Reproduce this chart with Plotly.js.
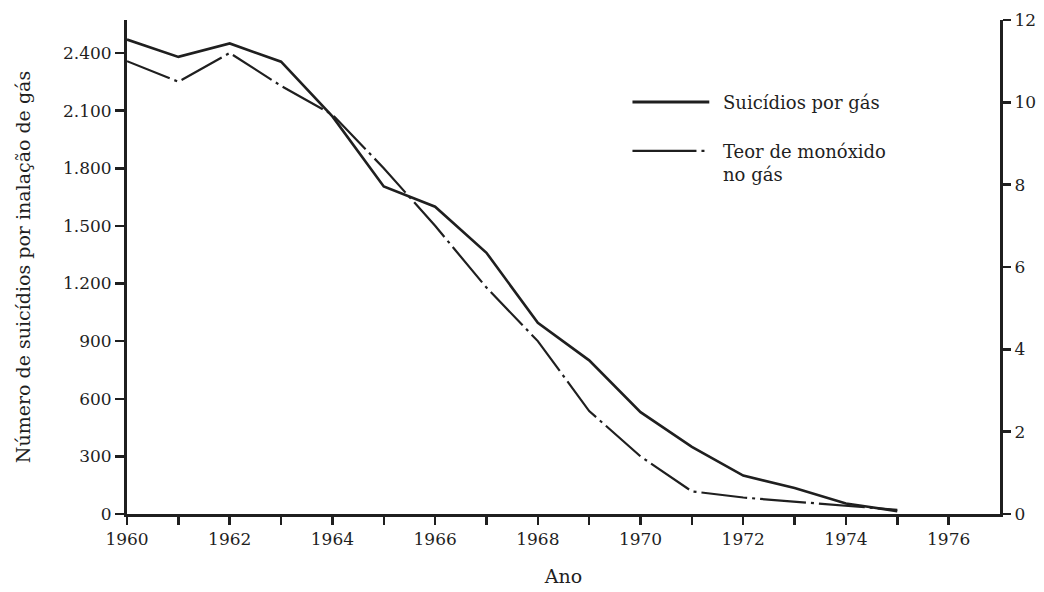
<!DOCTYPE html>
<html>
<head>
<meta charset="utf-8">
<script src="https://cdn.plot.ly/plotly-3.0.1.min.js"></script>
<style>html,body{margin:0;padding:0;background:#fff;}#chart{width:1044px;height:592px;}</style>
</head>
<body>
<div id="chart"></div>
<script>
// Data
const years = [1960,1961,1962,1963,1964,1965,1966,1967,1968,1969,1970,1971,1972,1973,1974,1975];
const suicidiosPorGas = [2470,2380,2450,2355,2070,1705,1600,1360,995,800,530,350,200,135,55,15];
const teorMonoxido = [11.0,10.5,11.2,10.4,9.7,8.4,7.0,5.5,4.2,2.5,1.4,0.55,0.4,0.3,0.2,0.1];

const xTickVals = [1960,1961,1962,1963,1964,1965,1966,1967,1968,1969,1970,1971,1972,1973,1974,1975,1976];
const xTickText = ['1960','','1962','','1964','','1966','','1968','','1970','','1972','','1974','','1976'];
const yLeftTickVals = [0,300,600,900,1200,1500,1800,2100,2400];
const yLeftTickText = ['0','300','600','900','1.200','1.500','1.800','2.100','2.400'];
const yRightTickVals = [0,2,4,6,8,10,12];
const yRightTickText = ['0','2','4','6','8','10','12'];

const seriesNames = ['Suicídios por gás', 'Teor de monóxido<br>no gás'];

const FONT = 'DejaVu Serif, Liberation Serif, serif';
const INK = '#1f1f1f';

const traces = [
  {x: years, y: suicidiosPorGas, type: 'scatter', mode: 'lines', name: seriesNames[0],
   line: {color: INK, width: 2.6}, yaxis: 'y', showlegend: false, hoverinfo: 'skip'},
  {x: years, y: teorMonoxido, type: 'scatter', mode: 'lines', name: seriesNames[1],
   line: {color: INK, width: 2.2, dash: '46px,5px,3px,5px'}, yaxis: 'y2', showlegend: false, hoverinfo: 'skip'}
];

const layout = {
  width: 1044, height: 592,
  margin: {l: 127, r: 44, t: 20, b: 78},
  paper_bgcolor: '#fff', plot_bgcolor: '#fff',
  font: {family: FONT, color: INK, size: 17},
  xaxis: {
    range: [1960, 1977], tickvals: xTickVals, ticktext: xTickText,
    ticks: 'outside', ticklen: 8, tickwidth: 2.5, tickcolor: INK,
    showline: true, linewidth: 3, linecolor: INK, showgrid: false, zeroline: false,
    tickfont: {size: 17}, fixedrange: true,
    title: {text: 'Ano', font: {size: 19}, standoff: 22}
  },
  yaxis: {
    range: [0, 2572], tickvals: yLeftTickVals, ticktext: yLeftTickText,
    ticks: 'outside', ticklen: 9, tickwidth: 2.5, tickcolor: INK,
    showline: true, linewidth: 3, linecolor: INK, showgrid: false, zeroline: false,
    tickfont: {size: 17}, fixedrange: true,
    title: {text: 'Número de suicídios por inalação de gás', font: {size: 19}, standoff: 28}
  },
  yaxis2: {
    range: [0, 12], tickvals: yRightTickVals, ticktext: yRightTickText,
    overlaying: 'y', side: 'right',
    ticks: 'outside', ticklen: 8, tickwidth: 2.5, tickcolor: INK,
    showline: true, linewidth: 3, linecolor: INK, showgrid: false, zeroline: false,
    tickfont: {size: 17}, fixedrange: true
  },
  shapes: [
    {type: 'line', xref: 'paper', yref: 'paper', x0: 0.579, x1: 0.667, y0: 0.834, y1: 0.834,
     line: {color: INK, width: 2.8}},
    {type: 'line', xref: 'paper', yref: 'paper', x0: 0.579, x1: 0.667, y0: 0.735, y1: 0.735,
     line: {color: INK, width: 2.2, dash: '64px,5px,3px,5px'}}
  ],
  annotations: [
    {xref: 'paper', yref: 'paper', x: 0.68, y: 0.834, xanchor: 'left', yanchor: 'middle',
     text: seriesNames[0], showarrow: false, font: {size: 18}},
    {xref: 'paper', yref: 'paper', x: 0.68, y: 0.76, xanchor: 'left', yanchor: 'top',
     text: seriesNames[1], showarrow: false, align: 'left', font: {size: 18}}
  ]
};

Plotly.newPlot('chart', traces, layout, {displayModeBar: false, staticPlot: true});
</script>
</body>
</html>
